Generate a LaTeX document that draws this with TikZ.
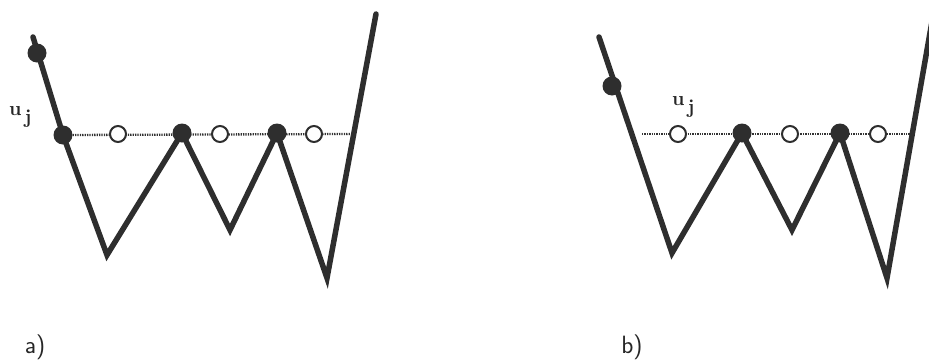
\documentclass[tikz,border=0pt]{standalone}
\begin{document}
\begin{tikzpicture}[x=1pt,y=-1pt,
  thickline/.style={draw=black!82, line width=5.5pt, line join=miter, line cap=round},
  dotline/.style={draw=black!80, line width=2.3pt, dash pattern=on 1.3pt off 1.1pt},
  fdot/.style={circle, fill=black!82, draw=none, minimum width=19pt, minimum height=16pt, inner sep=0pt},
  odot/.style={circle, fill=white, draw=black!82, line width=2pt, minimum size=16pt, inner sep=0pt},
  ujlbl/.style={anchor=base west, inner sep=0pt, font=\bfseries\fontsize{20}{24}\selectfont, text=black!85},
  plbl/.style={inner sep=0pt, font=\sffamily\fontsize{25}{28}\selectfont, text=black!85}]
\clip (0,0) rectangle (929,362);
\useasboundingbox (0,0) rectangle (929,362);
% ---- panel a ----
\coordinate (a0) at (33,37);
\coordinate (a1) at (63,135);
\coordinate (a2) at (107,255);
\coordinate (a3) at (182,133);
\coordinate (a4) at (230,230);
\coordinate (a5) at (277,133);
\coordinate (a6) at (327,278);
\coordinate (a7) at (376,14);
\coordinate (ae) at (350,134);
\draw[dotline] (a1) -- (ae);
\draw[thickline] (a0) -- (a1) -- (a2) -- (a3) -- (a4) -- (a5) -- (a6) -- (a7);
\node[fdot] (ad0) at (37,53) {};
\node[fdot] (ad1) at (a1) {};
\node[fdot] (ad3) at (a3) {};
\node[fdot] (ad5) at (a5) {};
\node[odot] (ao1) at (118,134) {};
\node[odot] (ao2) at (220,134) {};
\node[odot] (ao3) at (314,134) {};
\node[ujlbl] (auj) at (9,115) {u\hspace{3pt}\raisebox{-8pt}{j}};
\node[plbl] (la) at (35,347) {a)};
% ---- panel b ----
\coordinate (b0) at (599,37);
\coordinate (b2) at (672,253);
\coordinate (b3) at (742,133);
\coordinate (b4) at (792,230);
\coordinate (b5) at (840,133);
\coordinate (b6) at (887,278);
\coordinate (b7) at (934,10);
\coordinate (bs) at (642,134);
\coordinate (be) at (912,134);
\draw[dotline] (bs) -- (be);
\draw[thickline] (b0) -- (b2) -- (b3) -- (b4) -- (b5) -- (b6) -- (b7);
\node[fdot] (bd0) at (612,86) {};
\node[fdot] (bd3) at (b3) {};
\node[fdot] (bd5) at (b5) {};
\node[odot] (bo1) at (678,134) {};
\node[odot] (bo2) at (790,134) {};
\node[odot] (bo3) at (878,134) {};
\node[ujlbl] (buj) at (672,105) {u\hspace{3pt}\raisebox{-8pt}{j}};
\node[plbl] (lb) at (632,347) {b)};
\end{tikzpicture}
\end{document}
